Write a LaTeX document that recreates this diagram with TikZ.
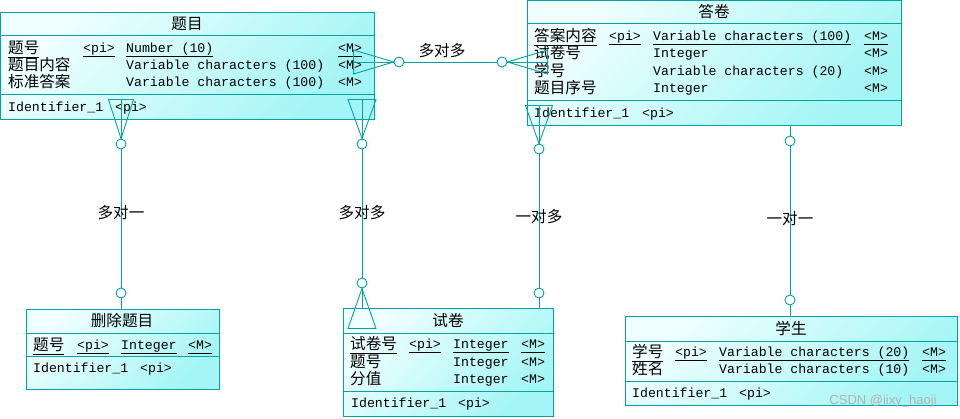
\documentclass[tikz,border=0pt]{standalone}
\usepackage{fontspec}
\setmainfont{Liberation Mono}
\newfontfamily\cjk{Noto Sans CJK SC}
\newfontfamily\wmfont{Liberation Sans}
\definecolor{lc}{HTML}{00A3A3}
\definecolor{lightc}{HTML}{F0FFFF}
\definecolor{darkc}{HTML}{A4F5F5}
\newcommand\myul[1]{\underline{#1\vrule width 0pt depth 2pt}}
\begin{document}
\begin{tikzpicture}[x=1pt,y=-1pt,
 ent/.style={draw=lc, line width=1pt, top color=lightc, bottom color=darkc, shading angle=45, rectangle, inner sep=0pt, anchor=north west},
 sepl/.style={draw=lc, line width=1pt},
 ln/.style={anchor=base west, inner sep=0pt, yshift=-4.5pt, font=\fontsize{13.2}{15}\selectfont},
 cn/.style={anchor=base west, inner sep=0pt, yshift=-5.9pt, font=\cjk\fontsize{15.6}{17}\selectfont},
 title/.style={anchor=center, inner sep=0pt, font=\cjk\fontsize{15.6}{17}\selectfont},
 lbl/.style={anchor=center, inner sep=0pt, font=\cjk\fontsize{15.6}{17}\selectfont},
 conn/.style={draw=lc, line width=0.9pt},
 circ/.style={circle, draw=lc, fill=white, line width=0.9pt, minimum size=10pt, inner sep=0pt}
]
\useasboundingbox (0,0) rectangle (960,419);

% ---------- entities ----------
\node[ent, minimum width=374pt, minimum height=107pt] (timu) at (0,12) {};
\node[ent, minimum width=374pt, minimum height=124.5pt] (dajuan) at (527,0.5) {};
\node[ent, minimum width=193pt, minimum height=80pt] (shanchu) at (26,309) {};
\node[ent, minimum width=210pt, minimum height=108pt] (shijuan) at (343,308) {};
\node[ent, minimum width=332pt, minimum height=89pt] (xuesheng) at (625,316) {};

\draw[sepl] (0,36) -- (374,36);
\draw[sepl] (0,95) -- (374,95);
\draw[sepl] (527,24) -- (901,24);
\draw[sepl] (527,101) -- (901,101);
\draw[sepl] (26,333) -- (219,333);
\draw[sepl] (26,356) -- (219,356);
\draw[sepl] (343,333) -- (553,333);
\draw[sepl] (343,391) -- (553,391);
\draw[sepl] (625,341) -- (957,341);
\draw[sepl] (625,381) -- (957,381);

% ---------- 题目 ----------
\node[title] (tmT) at (187,24) {题目};
\node[cn] (tm1a) at (8,48) {\myul{题号}};
\node[ln] (tm1b) at (83,48) {\myul{<pi>}};
\node[ln] (tm1c) at (126,48) {\myul{Number (10)}};
\node[ln] (tm1d) at (338,48) {\myul{<M>}};
\node[cn] (tm2a) at (8,65) {题目内容};
\node[ln] (tm2c) at (126,65) {Variable characters (100)};
\node[ln] (tm2d) at (338,65) {<M>};
\node[cn] (tm3a) at (8,82) {标准答案};
\node[ln] (tm3c) at (126,82) {Variable characters (100)};
\node[ln] (tm3d) at (338,82) {<M>};
\node[ln] (tmIa) at (8,107) {Identifier\_1};
\node[ln] (tmIb) at (115,107) {<pi>};

% ---------- 答卷 ----------
\node[title] (djT) at (714,12) {答卷};
\node[cn] (dj1a) at (534,36) {\myul{答案内容}};
\node[ln] (dj1b) at (609,36) {\myul{<pi>}};
\node[ln] (dj1c) at (653,36) {\myul{Variable characters (100)}};
\node[ln] (dj1d) at (864,36) {\myul{<M>}};
\node[cn] (dj2a) at (534,53) {试卷号};
\node[ln] (dj2c) at (653,53) {Integer};
\node[ln] (dj2d) at (864,53) {<M>};
\node[cn] (dj3a) at (534,71) {学号};
\node[ln] (dj3c) at (653,71) {Variable characters (20)};
\node[ln] (dj3d) at (864,71) {<M>};
\node[cn] (dj4a) at (534,88) {题目序号};
\node[ln] (dj4c) at (653,88) {Integer};
\node[ln] (dj4d) at (864,88) {<M>};
\node[ln] (djIa) at (534,113) {Identifier\_1};
\node[ln] (djIb) at (642,113) {<pi>};

% ---------- 删除题目 ----------
\node[title] (scT) at (122,321) {删除题目};
\node[cn] (sc1a) at (33,345) {\myul{题号}};
\node[ln] (sc1b) at (77,345) {\myul{<pi>}};
\node[ln] (sc1c) at (121,345) {\myul{Integer}};
\node[ln] (sc1d) at (188,345) {\myul{<M>}};
\node[ln] (scIa) at (33,368) {Identifier\_1};
\node[ln] (scIb) at (140,368) {<pi>};

% ---------- 试卷 ----------
\node[title] (sjT) at (448,321) {试卷};
\node[cn] (sj1a) at (350,344) {\myul{试卷号}};
\node[ln] (sj1b) at (409,344) {\myul{<pi>}};
\node[ln] (sj1c) at (453,344) {\myul{Integer}};
\node[ln] (sj1d) at (521,344) {\myul{<M>}};
\node[cn] (sj2a) at (350,362) {题号};
\node[ln] (sj2c) at (453,362) {Integer};
\node[ln] (sj2d) at (521,362) {<M>};
\node[cn] (sj3a) at (350,379) {分值};
\node[ln] (sj3c) at (453,379) {Integer};
\node[ln] (sj3d) at (521,379) {<M>};
\node[ln] (sjIa) at (351,403) {Identifier\_1};
\node[ln] (sjIb) at (458,403) {<pi>};

% ---------- 学生 ----------
\node[title] (xsT) at (791,328) {学生};
\node[cn] (xs1a) at (632,352) {\myul{学号}};
\node[ln] (xs1b) at (675,352) {\myul{<pi>}};
\node[ln] (xs1c) at (719,352) {\myul{Variable characters (20)}};
\node[ln] (xs1d) at (922,352) {\myul{<M>}};
\node[cn] (xs2a) at (632,369) {姓名};
\node[ln] (xs2c) at (719,369) {Variable characters (10)};
\node[ln] (xs2d) at (922,369) {<M>};
\node[ln] (xsIa) at (632,393) {Identifier\_1};
\node[ln] (xsIb) at (739,393) {<pi>};

% ---------- circles ----------
\node[circ] (cA) at (399,62) {};
\node[circ] (cB) at (502,62) {};
\node[circ] (cC1) at (121,144) {};
\node[circ] (cC2) at (121,293) {};
\node[circ] (cD1) at (362,144) {};
\node[circ] (cD2) at (362,283) {};
\node[circ] (cE1) at (539,149) {};
\node[circ] (cE2) at (539,293) {};
\node[circ] (cF1) at (790,141) {};
\node[circ] (cF2) at (790,300) {};

% ---------- connectors ----------
% 题目 -- 答卷
\draw[conn] (cA) -- (cB);
\draw[conn] (cA.west) -- ++(-40,-12) -- ++(0,24) -- cycle;
\draw[conn] (cA.west) -- ++(-40,0);
\draw[conn] (cB.east) -- ++(40,-12) -- ++(0,24) -- cycle;
\draw[conn] (cB.east) -- ++(40,0);
% 题目 -- 删除题目
\draw[conn] (cC1.north) -- ++(-12.5,-39) -- ++(25,0) -- cycle;
\draw[conn] (cC1.north) -- ++(0,-39);
\draw[conn] (cC1) -- (cC2);
\draw[conn] (cC2.south) -- (cC2.south |- shanchu.north);
% 题目 -- 试卷
\draw[conn] (cD1.north) -- ++(-14,-39) -- ++(28,0) -- cycle;
\draw[conn] (cD1.north) -- ++(0,-39);
\draw[conn] (cD1) -- (cD2);
\draw[conn] (cD2.south) -- ++(-14,40) -- ++(28,0) -- cycle;
\draw[conn] (cD2.south) -- (cD2.south |- shijuan.north);
% 答卷 -- 试卷
\draw[conn] (cE1.north) -- ++(-13.5,-38) -- ++(27,0) -- cycle;
\draw[conn] (cE1.north) -- ++(0,-38);
\draw[conn] (cE1) -- (cE2);
\draw[conn] (cE2.south) -- (cE2.south |- shijuan.north);
% 答卷 -- 学生
\draw[conn] (cF1.north) -- (cF1.north |- dajuan.south);
\draw[conn] (cF1) -- (cF2);
\draw[conn] (cF2.south) -- (cF2.south |- xuesheng.north);

% ---------- labels ----------
\node[lbl] (l1) at (442,51) {多对多};
\node[lbl] (l2) at (121,213) {多对一};
\node[lbl] (l3) at (362,213) {多对多};
\node[lbl] (l4) at (539,217) {一对多};
\node[lbl] (l5) at (790,219) {一对一};

\node[anchor=center, inner sep=0pt, font=\wmfont\fontsize{13}{15}\selectfont, text=gray!60] (wm) at (883,401) {CSDN @iixy\_haoji};
\end{tikzpicture}
\end{document}
